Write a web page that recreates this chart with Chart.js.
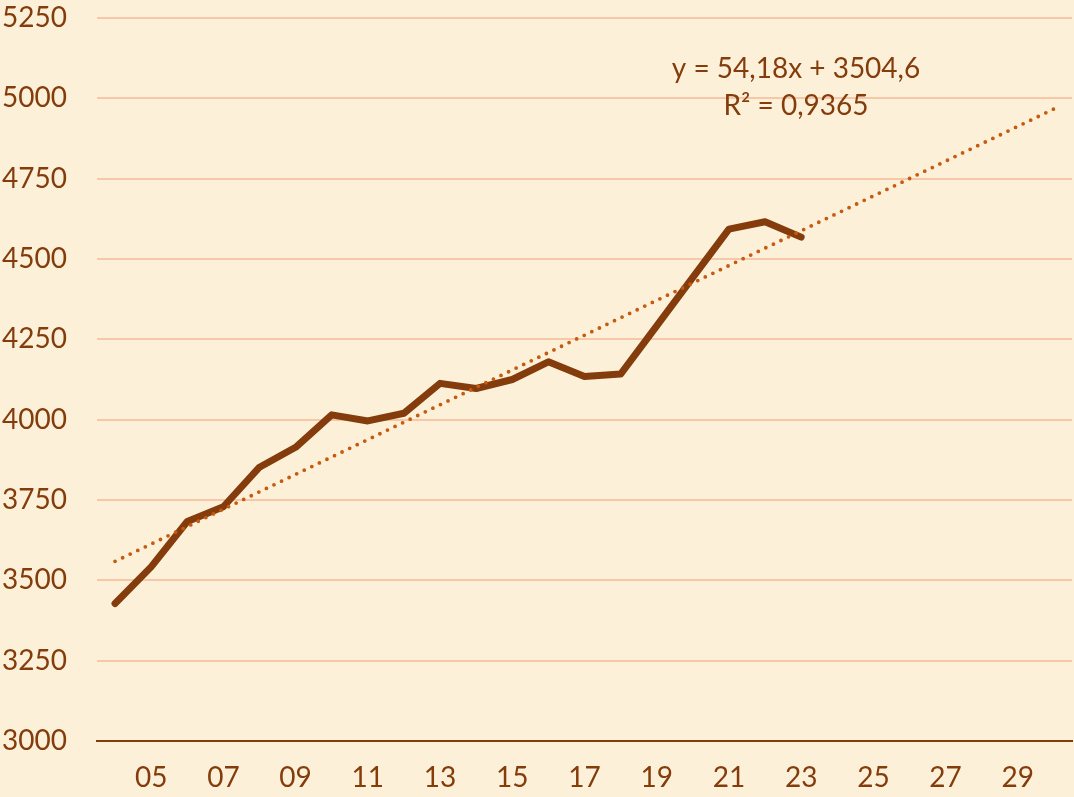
<!DOCTYPE html>
<html>
<head>
<meta charset="utf-8">
<script src="https://cdn.jsdelivr.net/npm/chart.js@4.4.1/dist/chart.umd.min.js"></script>
<style>
  html, body { margin: 0; padding: 0; background: #fcf0d8; }
  #wrap { width: 1074px; height: 797px; }
</style>
</head>
<body>
<div id="wrap"><canvas id="trendChart" width="1074" height="797"></canvas></div>
<script>
// categories 04..30 (data runs to 23, the trendline forecasts to 30)
const years = ['04','05','06','07','08','09','10','11','12','13','14','15','16','17',
               '18','19','20','21','22','23','24','25','26','27','28','29','30'];
const values = [3428, 3542, 3683, 3729, 3852, 3914, 4015, 3996, 4020, 4113,
                4097, 4125, 4180, 4134, 4142, 4292, 4443, 4593, 4616, 4568];
// linear trend, read at its two ends (04 and 30)
const trendStart = 3559;
const trendEnd = 4967;
const trendLabel = 'y = 54,18x + 3504,6';
const r2Label = 'R\u00b2 = 0,9365';
const yTicks = [3000, 3250, 3500, 3750, 4000, 4250, 4500, 4750, 5000, 5250];

const COLORS = {
  line: '#843c0c',
  trend: '#c55a11',
  grid: '#f7c8a8',
  text: '#843c0c',
  bg: '#fcf0d8'
};
const FONT = { family: 'Lato, "Open Sans", sans-serif', size: 28 };

const trendData = years.map((_, i) => i === 0 ? trendStart : (i === years.length - 1 ? trendEnd : null));

const background = {
  id: 'background',
  beforeDraw(chart) {
    const { ctx, width, height } = chart;
    ctx.save();
    ctx.fillStyle = COLORS.bg;
    ctx.fillRect(0, 0, width, height);
    ctx.restore();
  }
};

const equation = {
  id: 'equation',
  afterDatasetsDraw(chart) {
    const { ctx, chartArea } = chart;
    const cx = chartArea.right - 276;
    ctx.save();
    ctx.fillStyle = COLORS.text;
    ctx.font = `${FONT.size}px ${FONT.family}`;
    ctx.textAlign = 'center';
    ctx.textBaseline = 'middle';
    ctx.fillText(trendLabel, cx, chartArea.top + 51);
    ctx.fillText(r2Label, cx, chartArea.top + 88);
    ctx.restore();
  }
};

new Chart(document.getElementById('trendChart').getContext('2d'), {
  type: 'line',
  data: {
    labels: years,
    datasets: [
      {
        label: 'Values',
        data: values,
        borderColor: COLORS.line,
        borderWidth: 7,
        borderCapStyle: 'round',
        borderJoinStyle: 'round',
        pointRadius: 0,
        tension: 0,
        order: 2
      },
      {
        label: 'Trend',
        data: trendData,
        spanGaps: true,
        borderColor: COLORS.trend,
        borderWidth: 3.8,
        borderDash: [0, 8.4],
        borderCapStyle: 'round',
        pointRadius: 0,
        tension: 0,
        order: 1
      }
    ]
  },
  options: {
    responsive: false,
    animation: false,
    layout: { padding: { top: 0, right: 2, left: 0, bottom: 0 } },
    plugins: { legend: { display: false }, tooltip: { enabled: false } },
    scales: {
      x: {
        offset: true,
        grid: { display: false, drawTicks: false },
        border: { display: true, color: COLORS.line, width: 2 },
        ticks: {
          color: COLORS.text,
          font: FONT,
          autoSkip: false,
          maxRotation: 0,
          padding: 20,
          callback: (v, i) => (i % 2 === 1 ? years[i] : '')
        },
        afterFit: s => { s.height = 56; }
      },
      y: {
        min: 3000,
        max: 5250,
        afterBuildTicks: s => { s.ticks = yTicks.map(v => ({ value: v })); },
        grid: {
          color: c => (c.tick && c.tick.value === 3000 ? 'rgba(0,0,0,0)' : COLORS.grid),
          lineWidth: 2,
          drawTicks: false
        },
        border: { display: false },
        ticks: { color: COLORS.text, font: FONT, padding: 30, callback: v => String(v) },
        afterFit: s => { s.width = 97; s.paddingTop = 18; s.paddingBottom = 0; }
      }
    }
  },
  plugins: [background, equation]
});
</script>
</body>
</html>
